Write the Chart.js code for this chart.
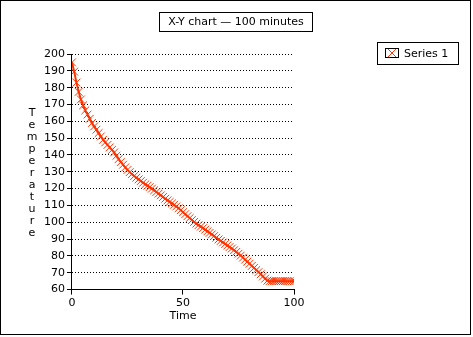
<!DOCTYPE html>
<html>
<head>
<meta charset="utf-8">
<script src="https://cdn.jsdelivr.net/npm/chart.js@4/dist/chart.umd.min.js"></script>
<style>
  html, body { margin: 0; padding: 0; background: #fff; }
  #wrap { width: 473px; height: 337px; }
</style>
</head>
<body>
<div id="wrap"><canvas id="myChart" width="473" height="337"></canvas></div>
<script>
// Temperature readings, one per minute
const minutes = [];
for (let m = 0; m <= 100; m++) minutes.push(m);

const temps = [
  195, 189.5, 183, 177.5, 173, 169.5, 166.5, 164, 161.5, 159,
  157, 155, 153, 151, 149, 147.5, 146, 144.5, 143, 141.5,
  139.5, 137.5, 135.8, 134.2, 132.6, 131.1, 129.8, 128.6, 127.5, 126.5,
  125.5, 124.5, 123.5, 122.5, 121.7, 120.9, 120, 119, 118, 117,
  116, 115, 114, 113, 112.1, 111.2, 110.4, 109.4, 108.3, 107.2,
  106, 104.8, 103.6, 102.5, 101.3, 100.2, 99.2, 98.3, 97.4, 96.5,
  95.6, 94.6, 93.7, 92.8, 91.8, 90.8, 89.8, 88.9, 88, 87.1,
  86.2, 85.3, 84.4, 83.4, 82.4, 81.3, 80.2, 79, 77.8, 76.6,
  75.4, 74.1, 72.9, 71.6, 70.4, 69.1, 67.8, 66.5, 65.3, 65,
  65, 65, 65, 65, 65, 65, 65, 65, 65, 65, 65
];

const chartTitle = 'X-Y chart \u2014 100 minutes';
const seriesName = 'Series 1';
const yTitle = 'Temperature';
const xTitle = 'Time';

const red = '#ff3300';
const font = { family: 'DejaVu Sans', size: 11 };

// boxes for title and legend, the stacked y title and the outer frame
const frame = {
  id: 'frame',
  afterDraw(chart) {
    const c = chart.ctx;
    c.save();
    c.strokeStyle = '#000';
    c.lineWidth = 1;
    c.strokeRect(0.5, 0.5, 470, 334);

    c.font = font.size + 'px ' + font.family;
    c.fillStyle = '#000';
    c.textBaseline = 'middle';

    // title box
    c.strokeRect(159.5, 12.5, 153, 19);
    c.textAlign = 'center';
    c.fillText(chartTitle, 236, 22);

    // legend box
    c.strokeRect(377.5, 42.5, 81, 22);
    c.strokeRect(385.5, 48.5, 13, 9);
    c.strokeStyle = red;
    c.beginPath();
    c.moveTo(388, 49); c.lineTo(396, 57);
    c.moveTo(396, 49); c.lineTo(388, 57);
    c.stroke();
    c.textAlign = 'left';
    c.fillText(seriesName, 404, 54);

    // y title, one letter per line
    c.textAlign = 'center';
    yTitle.split('').forEach((ch, i) => c.fillText(ch, 32, 113 + i * 12));
    c.restore();
  }
};

const ctx = document.getElementById('myChart').getContext('2d');
const myChart = new Chart(ctx, {
  type: 'line',
  data: {
    labels: minutes,
    datasets: [{
      label: seriesName,
      data: temps,
      borderColor: red,
      backgroundColor: red,
      borderWidth: 2,
      pointStyle: 'crossRot',
      pointRadius: 5.5,
      pointBorderWidth: 1,
      pointBorderColor: red,
      tension: 0
    }]
  },
  options: {
    responsive: false,
    animation: false,
    layout: { padding: { left: 42, top: 54, right: 179, bottom: 14 } },
    plugins: {
      legend: { display: false },
      title: { display: false },
      tooltip: { enabled: false }
    },
    scales: {
      x: {
        type: 'linear',
        min: 0,
        max: 100,
        ticks: { stepSize: 50, color: '#000', font: font, padding: 2, maxRotation: 0 },
        grid: { drawOnChartArea: false, tickLength: 5, tickColor: '#000', tickWidth: 1 },
        border: { color: '#000', width: 1 },
        title: { display: true, text: xTitle, color: '#000', font: font, padding: { top: -2, bottom: 0 } }
      },
      y: {
        min: 60,
        max: 200,
        ticks: { stepSize: 10, color: '#000', font: font, padding: 2 },
        grid: {
          color: '#000',
          lineWidth: 1,
          tickLength: 5,
          tickColor: '#000',
          tickBorderDash: [],
          tickWidth: 1
        },
        border: { color: '#000', width: 1, dash: [1, 2] }
      }
    }
  },
  plugins: [frame]
});
</script>
</body>
</html>
